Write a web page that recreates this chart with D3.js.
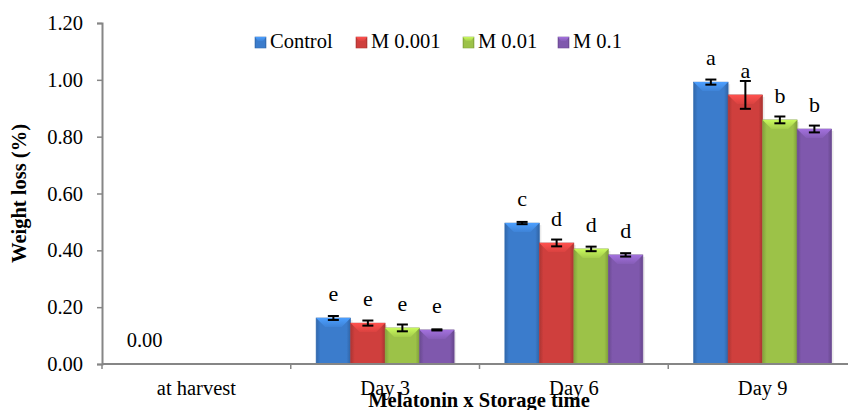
<!DOCTYPE html>
<html>
<head>
<meta charset="utf-8">
<script src="https://cdn.jsdelivr.net/npm/d3@7"></script>
<style>
  body { margin: 0; background: #fff; }
  svg { display: block; font-family: "Liberation Serif", "Times New Roman", serif; }
</style>
</head>
<body>
<svg width="848" height="410"></svg>
<script>
// chart data
var categories = ["at harvest", "Day 3", "Day 6", "Day 9"];
var seriesNames = ["Control", "M 0.001", "M 0.01", "M 0.1"];
var control = [0, 0.162, 0.496, 0.992];
var m0001 = [0, 0.144, 0.426, 0.947];
var m001 = [0, 0.127, 0.405, 0.859];
var m01 = [0, 0.120, 0.384, 0.827];
var controlErr = [0, 0.007, 0.004, 0.009];
var m0001Err = [0, 0.009, 0.012, 0.049];
var m001Err = [0, 0.012, 0.008, 0.012];
var m01Err = [0, 0.002, 0.006, 0.012];
var controlLetters = ["0.00", "e", "c", "a"];
var m0001Letters = ["", "e", "d", "a"];
var m001Letters = ["", "e", "d", "b"];
var m01Letters = ["", "e", "d", "b"];
var yTicks = [0, 0.2, 0.4, 0.6, 0.8, 1.0, 1.2];

var colors = ["#3b7ccc", "#cf3f3d", "#9cc248", "#7f58ad"];
var seriesValues = [control, m0001, m001, m01];
var seriesErr = [controlErr, m0001Err, m001Err, m01Err];
var seriesLetters = [controlLetters, m0001Letters, m001Letters, m01Letters];

var svg = d3.select("svg");
var plotLeft = 102, plotRight = 857, plotTop = 23, plotBottom = 364;
var fs = 20.5;

var x0 = d3.scaleBand().domain(categories).range([plotLeft, plotRight]).padding(0);
var x1 = d3.scaleBand().domain(seriesNames).range([0, x0.bandwidth()])
    .paddingInner(0).paddingOuter(0.735);
var y = d3.scaleLinear().domain([0, 1.2]).range([plotBottom, plotTop]);

// gradients for the bevelled bars
var defs = svg.append("defs");
colors.forEach(function(c, i) {
    var g = defs.append("linearGradient").attr("id", "side" + i)
        .attr("x1", "0").attr("x2", "1").attr("y1", "0").attr("y2", "0");
    g.append("stop").attr("offset", "0").attr("stop-color", d3.color(c).darker(0.5));
    g.append("stop").attr("offset", "0.12").attr("stop-color", c);
    g.append("stop").attr("offset", "0.88").attr("stop-color", c);
    g.append("stop").attr("offset", "1").attr("stop-color", d3.color(c).darker(0.6));
    var t = defs.append("linearGradient").attr("id", "top" + i)
        .attr("x1", "0").attr("x2", "0").attr("y1", "0").attr("y2", "1");
    t.append("stop").attr("offset", "0").attr("stop-color", d3.color(c).brighter(0.7));
    t.append("stop").attr("offset", "1").attr("stop-color", d3.color(c).brighter(0.15));
});

// y axis
var yAxis = svg.append("g")
    .attr("transform", "translate(" + plotLeft + ",0)")
    .call(d3.axisLeft(y).tickValues(yTicks).tickFormat(d3.format(".2f")).tickSize(5).tickPadding(14));
yAxis.select(".domain").attr("stroke", "#868686").attr("stroke-width", 2);
yAxis.selectAll(".tick line").attr("stroke", "#868686").attr("stroke-width", 1.5);
yAxis.selectAll(".tick text").attr("font-size", fs).attr("fill", "#000")
    .attr("font-family", "Liberation Serif");

// bars
var groups = svg.append("g").selectAll("g")
    .data(seriesNames)
    .enter().append("g");

groups.each(function(s, si) {
    var g = d3.select(this);
    categories.forEach(function(cat, ci) {
        var v = seriesValues[si][ci];
        if (v <= 0) return;
        var bx = x0(cat) + x1(s);
        var bw = x1.bandwidth();
        var by = y(v);
        var bh = plotBottom - by;
        // soft shadow
        g.append("rect")
            .attr("x", bx + 2).attr("y", by + 2)
            .attr("width", bw).attr("height", bh - 2)
            .attr("fill", "#000").attr("opacity", 0.08);
        g.append("rect")
            .attr("x", bx).attr("y", by)
            .attr("width", bw).attr("height", bh)
            .attr("fill", "url(#side" + si + ")")
            .attr("stroke", d3.color(colors[si]).darker(0.4)).attr("stroke-width", 0.6);
        var bev = Math.min(9, bh);
        g.append("path")
            .attr("d", "M" + bx + "," + by + "L" + (bx + bw) + "," + by +
                "L" + (bx + bw - bev) + "," + (by + bev) + "L" + (bx + bev) + "," + (by + bev) + "Z")
            .attr("fill", "url(#top" + si + ")");
    });
});

// error bars
groups.each(function(s, si) {
    var g = d3.select(this);
    categories.forEach(function(cat, ci) {
        var v = seriesValues[si][ci];
        var e = seriesErr[si][ci];
        if (v <= 0) return;
        var cx = x0(cat) + x1(s) + x1.bandwidth() / 2;
        g.append("line")
            .attr("x1", cx).attr("x2", cx)
            .attr("y1", y(v + e)).attr("y2", y(v - e))
            .attr("stroke", "#000").attr("stroke-width", 2);
        [v + e, v - e].forEach(function(yy) {
            g.append("line")
                .attr("x1", cx - 5.5).attr("x2", cx + 5.5)
                .attr("y1", y(yy)).attr("y2", y(yy))
                .attr("stroke", "#000").attr("stroke-width", 2);
        });
    });
});

// letter / value labels
groups.each(function(s, si) {
    var g = d3.select(this);
    categories.forEach(function(cat, ci) {
        var lab = seriesLetters[si][ci];
        if (!lab) return;
        var cx = x0(cat) + x1(s) + x1.bandwidth() / 2;
        g.append("text")
            .attr("x", cx)
            .attr("y", y(seriesValues[si][ci]) - 17)
            .attr("text-anchor", "middle")
            .attr("font-size", lab.length > 1 ? fs : 22)
            .text(lab);
    });
});

// x axis
var xAxis = svg.append("g");
xAxis.append("line")
    .attr("x1", plotLeft).attr("x2", plotRight)
    .attr("y1", plotBottom).attr("y2", plotBottom)
    .attr("stroke", "#868686").attr("stroke-width", 2);
xAxis.selectAll(".xt")
    .data(categories)
    .enter().append("line")
    .attr("x1", function(d) { return x0(d); })
    .attr("x2", function(d) { return x0(d); })
    .attr("y1", plotBottom).attr("y2", plotBottom + 5)
    .attr("stroke", "#868686").attr("stroke-width", 1.5);
xAxis.selectAll(".xl")
    .data(categories)
    .enter().append("text")
    .attr("x", function(d) { return x0(d) + x0.bandwidth() / 2; })
    .attr("y", 395)
    .attr("text-anchor", "middle")
    .attr("font-size", fs)
    .text(function(d) { return d; });

// axis titles
svg.append("text")
    .attr("x", 479).attr("y", 407)
    .attr("text-anchor", "middle")
    .attr("font-size", fs).attr("font-weight", "bold")
    .text("Melatonin x Storage time");
svg.append("text")
    .attr("transform", "translate(26," + ((plotTop + plotBottom) / 2) + ") rotate(-90)")
    .attr("text-anchor", "middle")
    .attr("font-size", fs).attr("font-weight", "bold")
    .text("Weight loss (%)");

// legend
var legendX = [255, 356, 463, 558];
var legend = svg.append("g").selectAll("g")
    .data(seriesNames)
    .enter().append("g")
    .attr("transform", function(d, i) { return "translate(" + legendX[i] + ",37)"; });
legend.append("rect")
    .attr("width", 11).attr("height", 11)
    .attr("fill", function(d, i) { return "url(#side" + i + ")"; })
    .attr("stroke", function(d, i) { return d3.color(colors[i]).darker(0.4); })
    .attr("stroke-width", 0.6);
legend.append("path")
    .attr("d", "M0,0L11,0L8,4L3,4Z")
    .attr("fill", function(d, i) { return "url(#top" + i + ")"; });
legend.append("text")
    .attr("x", 15).attr("y", 11)
    .attr("font-size", fs)
    .text(function(d) { return d; });
</script>
</body>
</html>
